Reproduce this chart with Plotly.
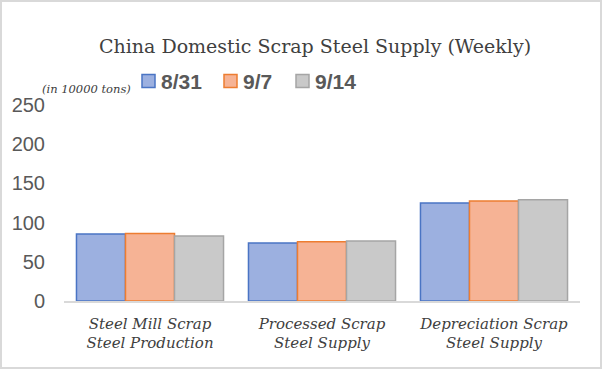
import plotly.graph_objects as go

categories = ["<i>Steel Mill Scrap</i><br><i>Steel Production</i>",
              "<i>Processed Scrap</i><br><i>Steel Supply</i>",
              "<i>Depreciation Scrap</i><br><i>Steel Supply</i>"]
series_names = ["8/31", "9/7", "9/14"]
v_0831 = [85.5, 74, 125]
v_0907 = [86, 75.5, 127.5]
v_0914 = [83, 76.5, 129]
fills = ["#9cb0e0", "#f6b395", "#c9c9c9"]
lines = ["#4a74c4", "#ed7d31", "#a5a5a5"]

W, H = 603, 370
ml, mr, mt, mb = 64, 23, 105, 69
pw, ph = W - ml - mr, H - mt - mb

SERIF = "DejaVu Serif, Liberation Serif, serif"
SANS = "Liberation Sans, Arial, sans-serif"

fig = go.Figure()
for name, vals, fc, lc in zip(series_names, [v_0831, v_0907, v_0914], fills, lines):
    fig.add_trace(go.Bar(x=categories, y=vals, name=name, showlegend=False,
                         hoverinfo="skip",
                         marker=dict(color=fc, line=dict(color=lc, width=1.5))))

def px_x(p):
    return (p - ml) / pw

def px_y(p):
    return (H - mb - p) / ph

fig.update_layout(
    width=W, height=H,
    margin=dict(l=ml, r=mr, t=mt, b=mb),
    paper_bgcolor="white", plot_bgcolor="white",
    bargap=0.145, bargroupgap=0,
    title=dict(text="China Domestic Scrap Steel Supply (Weekly)",
               xref="container", yref="container",
               x=315 / W, xanchor="center", y=1 - 46 / H, yanchor="middle",
               font=dict(family=SERIF, size=19, color="#404040")),
    font=dict(family=SANS),
    showlegend=False,
)
fig.update_yaxes(range=[0, 250], tickvals=[0, 50, 100, 150, 200, 250], showgrid=False,
                 showline=False, zeroline=False,
                 tickfont=dict(size=20, color="#595959", family=SANS),
                 ticks="", ticklabelstandoff=18)
fig.update_xaxes(showline=True, linecolor="#d9d9d9", linewidth=1.5, showgrid=False,
                 tickfont=dict(size=15, color="#404040", family=SERIF),
                 ticks="", ticklabelstandoff=8)

# custom legend (matches the reference's tight symbol/text spacing)
leg_sq_x = [142, 224, 296]
for name, fc, lc, sx in zip(series_names, fills, lines, leg_sq_x):
    fig.add_shape(type="rect", xref="paper", yref="paper",
                  x0=px_x(sx), x1=px_x(sx + 13), y0=px_y(87.5), y1=px_y(74.5),
                  line=dict(color=lc, width=1.5), fillcolor=fc)
    fig.add_annotation(text="<b>%s</b>" % name, xref="paper", yref="paper",
                       x=px_x(sx + 17), y=px_y(81), xanchor="left", yanchor="middle",
                       showarrow=False,
                       font=dict(family=SANS, size=21, color="#595959"))

fig.add_annotation(text="<i>(in 10000 tons)</i>", xref="paper", yref="paper",
                   x=px_x(40), y=px_y(89), xanchor="left", yanchor="middle", showarrow=False,
                   font=dict(family=SERIF, size=11.5, color="#404040"))

fig.add_shape(type="rect", xref="paper", yref="paper",
              x0=px_x(1), x1=px_x(601), y0=px_y(368), y1=px_y(1),
              line=dict(color="#d9d9d9", width=2), fillcolor="rgba(0,0,0,0)", layer="below")

fig.write_html("out.html", config={"displayModeBar": False},
               post_script="document.body.style.margin='0';document.body.style.padding='0';")
